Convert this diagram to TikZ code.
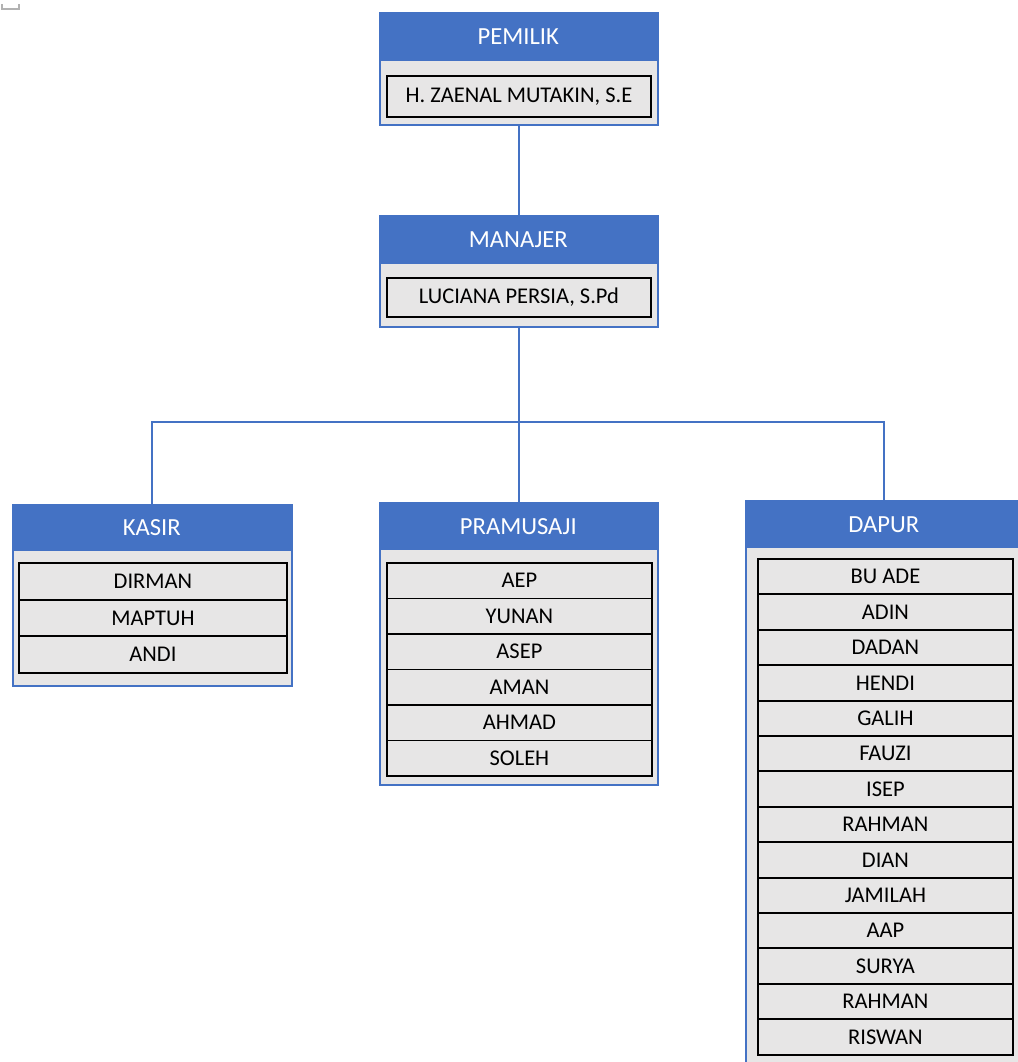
\documentclass[tikz,border=0pt]{standalone}
\usepackage{fontspec}
\setmainfont{Carlito}
\definecolor{orgblue}{HTML}{4472C4}
\definecolor{orggray}{HTML}{E7E6E6}
\begin{document}
\begin{tikzpicture}[x=0.02cm, y=-0.02cm,
    unit/.style={draw=orgblue, line width=1pt, fill=orggray, anchor=north west, inner sep=0pt},
    head/.style={fill=orgblue, text=white, anchor=north west, inner sep=0pt, font=\fontsize{14}{16}\selectfont},
    member/.style={draw=black, line width=1.1pt, fill=orggray, anchor=north west, inner sep=0pt, font=\fontsize{12.8}{14}\selectfont},
    link/.style={draw=orgblue, line width=1pt}]
    \useasboundingbox (0,0) rectangle (1018,1062);
    \clip (0,0) rectangle (1018,1062);
    \draw[gray!60, line width=0.8pt] (2,4) -- (2,9) -- (19,9) -- (19,4);

    % pemilik
    \node[unit, minimum width=5.56cm, minimum height=2.24cm] (pemilik) at (379,12) {};
    \node[head, minimum width=5.56cm, minimum height=0.98cm] (pemilikhead) at (379,12) {PEMILIK};
    \node[member, minimum width=5.28cm, minimum height=0.82cm] (pemilikname) at (386,75) {H. ZAENAL MUTAKIN, S.E};

    % manajer
    \node[unit, minimum width=5.56cm, minimum height=2.22cm] (manajer) at (379,215) {};
    \node[head, minimum width=5.56cm, minimum height=0.98cm] (manajerhead) at (379,215) {MANAJER};
    \node[member, minimum width=5.28cm, minimum height=0.78cm] (manajername) at (386,277) {LUCIANA PERSIA, S.Pd};

    % kasir
    \node[unit, minimum width=5.58cm, minimum height=3.62cm] (kasir) at (12,504) {};
    \node[head, minimum width=5.58cm, minimum height=0.94cm] (kasirhead) at (12,504) {KASIR};
    \foreach \name [count=\i from 0] in {DIRMAN,MAPTUH,ANDI}
        \node[member, minimum width=5.36cm, minimum height=0.734cm] (kasir\i) at (18,562+36.7*\i) {\name};

    % pramusaji
    \node[unit, minimum width=5.56cm, minimum height=5.64cm] (pramusaji) at (379,502) {};
    \node[head, minimum width=5.56cm, minimum height=0.96cm] (pramusajihead) at (379,502) {PRAMUSAJI};
    \foreach \name [count=\i from 0] in {AEP,YUNAN,ASEP,AMAN,AHMAD,SOLEH}
        \node[member, minimum width=5.30cm, minimum height=0.71cm] (pramusaji\i) at (386,562+35.5*\i) {\name};

    % dapur
    \node[unit, minimum width=5.54cm, minimum height=11.4cm] (dapur) at (745,500) {};
    \node[head, minimum width=5.54cm, minimum height=0.96cm] (dapurhead) at (745,500) {DAPUR};
    \foreach \name [count=\i from 0] in {BU ADE,ADIN,DADAN,HENDI,GALIH,FAUZI,ISEP,RAHMAN,DIAN,JAMILAH,AAP,SURYA,RAHMAN,RISWAN}
        \node[member, minimum width=5.10cm, minimum height=0.708cm] (dapur\i) at (757,558+35.4*\i) {\name};

    % garis
    \coordinate (bar) at (517,422);
    \draw[link] (pemilik.south) -- (manajer.north);
    \draw[link] (manajer.south) -- (pramusaji.north);
    \draw[link] (kasir.north) |- (bar) -| (dapur.north);
\end{tikzpicture}
\end{document}
